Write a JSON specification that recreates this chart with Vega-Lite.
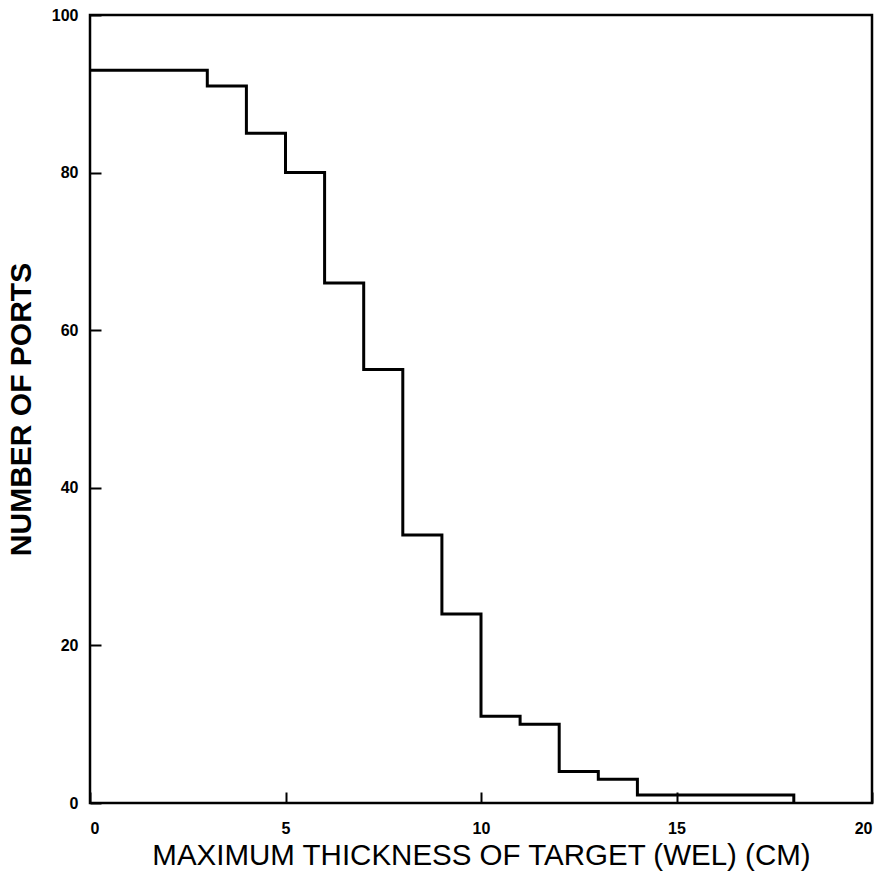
{
  "$schema": "https://vega.github.io/schema/vega-lite/v6.json",
  "width": 782,
  "height": 788,
  "autosize": "none",
  "padding": {"left": 90, "top": 15, "right": 12, "bottom": 79},
  "background": "white",
  "config": {
    "view": {"stroke": "black", "strokeWidth": 2.5},
    "axis": {
      "domain": false, "tickColor": "black", "tickWidth": 2,
      "grid": false, "labelFont": "Liberation Sans", "labelFontWeight": "bold",
      "labelColor": "black", "titleFont": "Liberation Sans", "titleColor": "black",
      "zindex": 1
    }
  },
  "data": {"values": [
    {"t": 0, "n": 93}, {"t": 3, "n": 91}, {"t": 4, "n": 85}, {"t": 5, "n": 80},
    {"t": 6, "n": 66}, {"t": 7, "n": 55}, {"t": 8, "n": 34}, {"t": 9, "n": 24},
    {"t": 10, "n": 11}, {"t": 11, "n": 10}, {"t": 12, "n": 4}, {"t": 13, "n": 3},
    {"t": 14, "n": 1}, {"t": 18, "n": 0}
  ]},
  "mark": {"type": "line", "interpolate": "step-after", "color": "black", "strokeWidth": 3},
  "encoding": {
    "x": {"field": "t", "type": "quantitative",
      "scale": {"domain": [0, 20], "nice": false},
      "axis": {"values": [0, 5, 10, 15, 20], "offset": -11, "tickSize": 11, "labelPadding": 17,
        "labelFontSize": 16, "title": "MAXIMUM THICKNESS OF TARGET (WEL) (CM)",
        "titleFontSize": 29.5, "titleFontWeight": "normal", "titlePadding": 5}},
    "y": {"field": "n", "type": "quantitative",
      "scale": {"domain": [0, 100], "nice": false},
      "axis": {"values": [0, 20, 40, 60, 80, 100], "offset": -11, "tickSize": 11, "labelPadding": 12,
        "labelFontSize": 16, "title": "NUMBER OF PORTS",
        "titleFontSize": 30, "titleFontWeight": "bold", "titlePadding": 15}}
  }
}
